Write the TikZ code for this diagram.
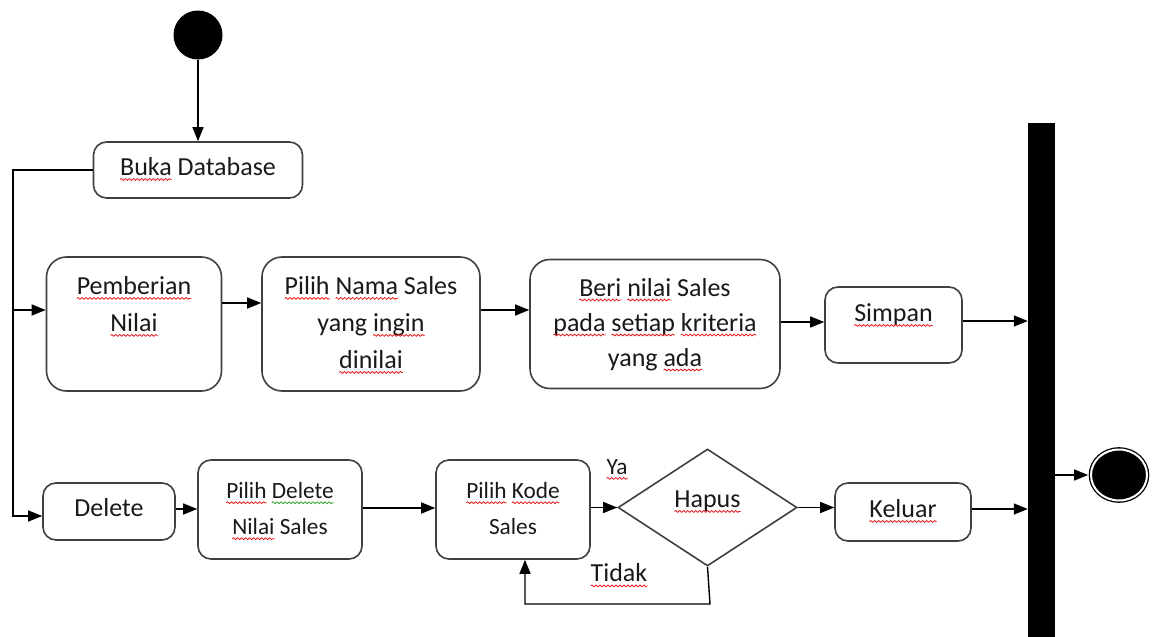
\documentclass[tikz,border=0pt]{standalone}
\usepackage{fontspec}
\setmainfont{Carlito}
\usetikzlibrary{shapes.geometric,arrows.meta,decorations.pathmorphing}

% wavy proofing underline under a word
\definecolor{spellred}{RGB}{235,25,25}
\definecolor{grammargreen}{RGB}{40,165,40}
\newlength\wvlen
\newcommand\wv[2][spellred]{%
  \settowidth\wvlen{#2}%
  \leavevmode\rlap{#2}%
  \tikz[baseline=0pt,x=1pt,y=1pt]{%
    \useasboundingbox (0,0) rectangle (\wvlen,0);
    \draw[#1, line width=0.8pt, rounded corners=0pt, decorate,
          decoration={snake, amplitude=0.9pt, segment length=4pt}]
      (0,-4) -- (\wvlen,-4);}}

\newcommand\bigtxt{\fontsize{26}{37}\selectfont}
\newcommand\midtxt{\fontsize{26}{35}\selectfont}
\newcommand\smalltxt{\fontsize{23.3}{36}\selectfont}

\tikzset{
  box/.style={draw=black!75, line width=1.6pt, rounded corners=13pt, inner sep=0pt,
              align=center, font=\bigtxt, text=black!90},
  bigbox/.style={box, rounded corners=20pt},
  flow/.style={draw=black, line width=1.4pt},
  arr/.style={flow, -{Triangle[length=14pt,width=11pt]}},
  lbl/.style={inner sep=0pt, font=\bigtxt, text=black!90},
}

\begin{document}
\begin{tikzpicture}[x=1pt, y=-1pt]
\useasboundingbox (0,0) rectangle (1157,637);

% start and end
\node[circle, fill=black, minimum size=49pt, inner sep=0pt] (start) at (198,35) {};
\node[ellipse, draw=black, fill=black, line width=1.3pt, double=white, double distance=2pt,
      minimum width=56pt, minimum height=51pt, inner sep=0pt] (end) at (1119,475) {};

% synchronisation bar
\node[fill=black, inner sep=0pt, minimum width=27pt, minimum height=520pt, anchor=north]
  (bar) at (1041.5,123) {};

% actions
\node[box, minimum width=209pt, minimum height=56pt, text depth=15pt] (buka) at (198,170)
  {\strut\wv{Buka} Database};

\node[bigbox, minimum width=175pt, minimum height=134pt] (pn) at (134,324)
  {\strut\wv{Pemberian}\\\strut\wv{Nilai}\\\strut};
\node[bigbox, minimum width=218pt, minimum height=134pt] (pns) at (371,324)
  {\strut\wv{Pilih} \wv{Nama} Sales\\\strut yang \wv{ingin}\\\strut\wv{dinilai}};
\node[bigbox, font=\midtxt, minimum width=250pt, minimum height=129pt] (beri) at (655,324)
  {\strut\wv{Beri} \wv{nilai} Sales\\\strut\wv{pada} \wv{setiap} \wv{kriteria}\\\strut yang \wv{ada}};
\node[box, minimum width=137pt, minimum height=76pt, text depth=33pt] (simpan) at (893.5,325)
  {\strut\wv{Simpan}};

\node[box, minimum width=132pt, minimum height=57pt, text depth=15pt] (del) at (109,511.5)
  {\strut Delete};
\node[box, font=\smalltxt, minimum width=164pt, minimum height=99pt] (pd) at (280,509.5)
  {\strut\wv{Pilih} \wv[grammargreen]{Delete}\\\strut\wv{Nilai} Sales};
\node[box, font=\smalltxt, minimum width=154pt, minimum height=99pt] (pk) at (513,509.5)
  {\strut\wv{Pilih} \wv{Kode}\\\strut Sales};
\node[diamond, draw=black!75, line width=1.6pt, inner sep=0pt, aspect=1.53, font=\bigtxt,
      text=black!90, minimum width=179pt, minimum height=117pt, text depth=26pt] (hap)
  at (707.5,507.5) {\strut\wv{Hapus}};
\node[box, minimum width=136pt, minimum height=58pt, text depth=15pt] (kel) at (903,512)
  {\strut\wv{Keluar}};

% guard labels
\node[lbl, font=\smalltxt] (ya) at (617,467) {\wv{Ya}};
\node[lbl] (tidak) at (619,573) {\wv{Tidak}};

% branch points
\coordinate (tr1) at (13,310);
\coordinate (tr2) at (13,516);
\coordinate (lp) at (710,604);

% flows
\draw[arr] (start) -- (buka);
\draw[arr] (buka.west) -| (tr2) -- (tr2 -| del.west);
\draw[arr] (tr1) -- (tr1 -| pn.west);

\draw[arr] (pn.east |- 0,303) -- (pns.west |- 0,303);
\draw[arr] (pns.east |- 0,310) -- (beri.west |- 0,310);
\draw[arr] (beri.east |- 0,322) -- (simpan.west |- 0,322);
\draw[arr] (simpan.east |- 0,321) -- (bar.west |- 0,321);

\draw[arr] (del.east |- 0,509) -- (pd.west |- 0,509);
\draw[arr] (pd.east |- 0,508) -- (pk.west |- 0,508);
\draw[arr] (pk.east |- hap.west) -- (hap.west);
\draw[arr] (hap.east) -- (kel.west |- hap.east);
\draw[arr] (kel.east |- 0,509) -- (bar.west |- 0,509);
\draw[arr] (hap.south) -- (lp) -| ([xshift=12pt]pk.south);

\draw[arr, shorten >=2.2pt] (bar.east |- end) -- (end.west);
\end{tikzpicture}
\end{document}
